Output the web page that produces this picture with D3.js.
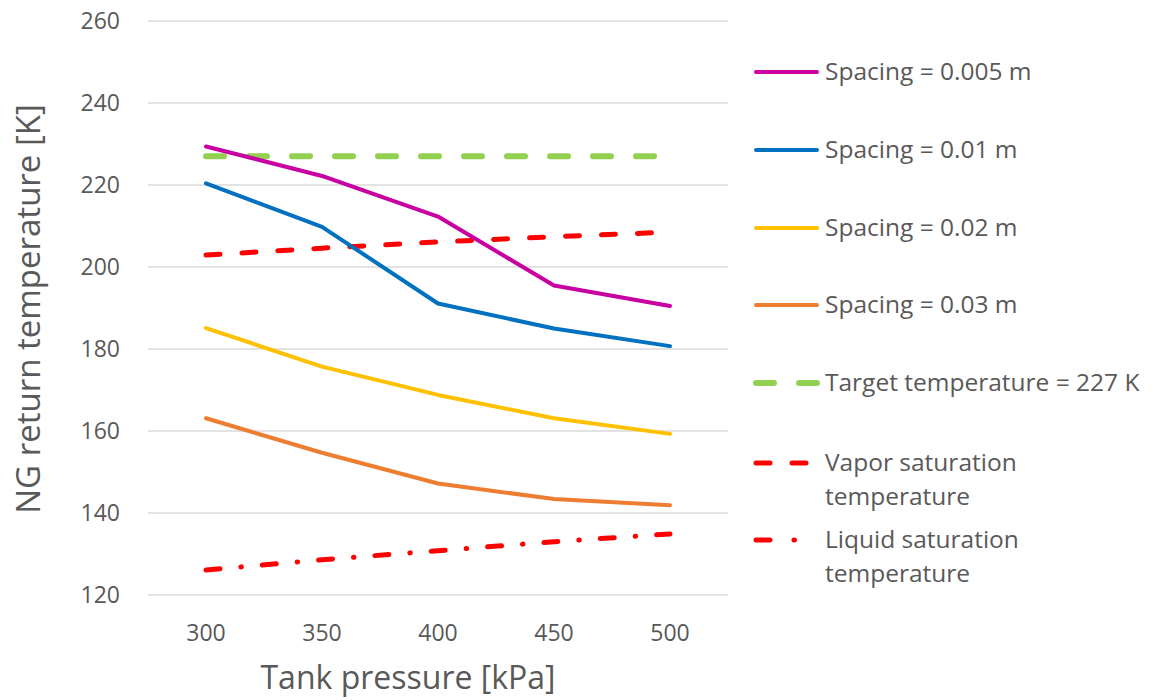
<!DOCTYPE html>
<html>
<head>
<meta charset="utf-8">
<script src="https://cdn.jsdelivr.net/npm/d3@7"></script>
<style>
  html, body { margin: 0; padding: 0; background: #fff; }
  svg { display: block; }
  text { font-family: "Open Sans", "Noto Sans", sans-serif; fill: #595959; }
</style>
</head>
<body>
<svg id="chart" width="1153" height="700"></svg>
<script>
// Tank pressure categories [kPa]
const pressures = ["300", "350", "400", "450", "500"];

// NG return temperature [K] for each fin spacing
const spacing005 = [229.4, 222.2, 212.3, 195.5, 190.5];
const spacing001 = [220.4, 209.8, 191.1, 185.0, 180.7];
const spacing002 = [185.1, 175.7, 168.8, 163.1, 159.3];
const spacing003 = [163.1, 154.7, 147.2, 143.4, 141.9];

// Reference temperatures [K]
const targetTemp = [227, 227, 227, 227, 227];
const vaporSat = [202.9, 204.6, 206.1, 207.4, 208.5];
const liquidSat = [126.1, 128.6, 130.8, 133.0, 134.9];

const yTicks = [120, 140, 160, 180, 200, 220, 240, 260];

const series = [
  { name: "Spacing = 0.005 m", values: spacing005, color: "#C800A1", width: 4, dash: null },
  { name: "Spacing = 0.01 m", values: spacing001, color: "#0070C0", width: 4, dash: null },
  { name: "Spacing = 0.02 m", values: spacing002, color: "#FFC000", width: 4, dash: null },
  { name: "Spacing = 0.03 m", values: spacing003, color: "#ED7D31", width: 4, dash: null },
  { name: "Target temperature = 227 K", values: targetTemp, color: "#92D050", width: 6, dash: "18,25" },
  { name: "Vapor saturation\ntemperature", values: vaporSat, color: "#FF0000", width: 5, dash: "14,22" },
  { name: "Liquid saturation\ntemperature", values: liquidSat, color: "#FF0000", width: 5, dash: "14,21,0.5,21",
    legendDash: "14,24,0.5,40" }
];

const svg = d3.select("#chart");
const plot = { left: 148, right: 728, top: 21, bottom: 595 };

const x = d3.scaleBand().domain(pressures).range([plot.left, plot.right]);
const y = d3.scaleLinear().domain([120, 260]).range([plot.bottom, plot.top]);
const cx = d => x(d) + x.bandwidth() / 2;

// Horizontal gridlines
svg.append("g")
  .selectAll("line")
  .data(yTicks)
  .join("line")
  .attr("x1", plot.left).attr("x2", plot.right)
  .attr("y1", d => y(d)).attr("y2", d => y(d))
  .attr("stroke", "#D9D9D9").attr("stroke-width", 1.3);

// Y axis labels
const yAxis = svg.append("g")
  .attr("transform", `translate(${plot.left - 28},0)`)
  .call(d3.axisLeft(y).tickValues(yTicks).tickSize(0).tickPadding(0));
yAxis.select(".domain").remove();
yAxis.selectAll("text")
  .style("font-family", "'Open Sans', sans-serif")
  .style("font-size", "23px").attr("fill", "#595959");

// X axis labels
const xAxis = svg.append("g")
  .attr("transform", `translate(0,${plot.bottom + 30})`)
  .call(d3.axisBottom(x).tickSize(0).tickPadding(0));
xAxis.select(".domain").remove();
xAxis.selectAll("text")
  .style("font-family", "'Open Sans', sans-serif")
  .style("font-size", "23px").attr("fill", "#595959");

// Axis titles
svg.append("text")
  .attr("x", 408).attr("y", 689)
  .attr("text-anchor", "middle")
  .style("font-size", "32px")
  .text("Tank pressure [kPa]");

svg.append("text")
  .attr("transform", "translate(40,309) rotate(-90)")
  .attr("text-anchor", "middle")
  .style("font-size", "33px")
  .text("NG return temperature [K]");

// Series lines
const line = d3.line()
  .x((d, i) => cx(pressures[i]))
  .y(d => y(d));

svg.append("g")
  .selectAll("path")
  .data(series.slice().reverse())
  .join("path")
  .attr("d", s => line(s.values))
  .attr("fill", "none")
  .attr("stroke", s => s.color)
  .attr("stroke-width", s => s.width)
  .attr("stroke-dasharray", s => s.dash)
  .attr("stroke-linecap", "round")
  .attr("stroke-linejoin", "round");

// Legend
const legendRows = [72, 150, 228, 305, 383, 463, 540];
const legend = svg.append("g");
series.forEach((s, i) => {
  const ly = legendRows[i];
  legend.append("line")
    .attr("x1", 756).attr("x2", 817)
    .attr("y1", ly).attr("y2", ly)
    .attr("stroke", s.color)
    .attr("stroke-width", s.width)
    .attr("stroke-dasharray", s.legendDash || s.dash)
    .attr("stroke-linecap", "round");
  const t = legend.append("text")
    .style("font-size", "24.5px");
  s.name.split("\n").forEach((ln, j) => {
    t.append("tspan")
      .attr("x", 825)
      .attr("y", ly + 8 + j * 33.5)
      .text(ln);
  });
});
</script>
</body>
</html>
